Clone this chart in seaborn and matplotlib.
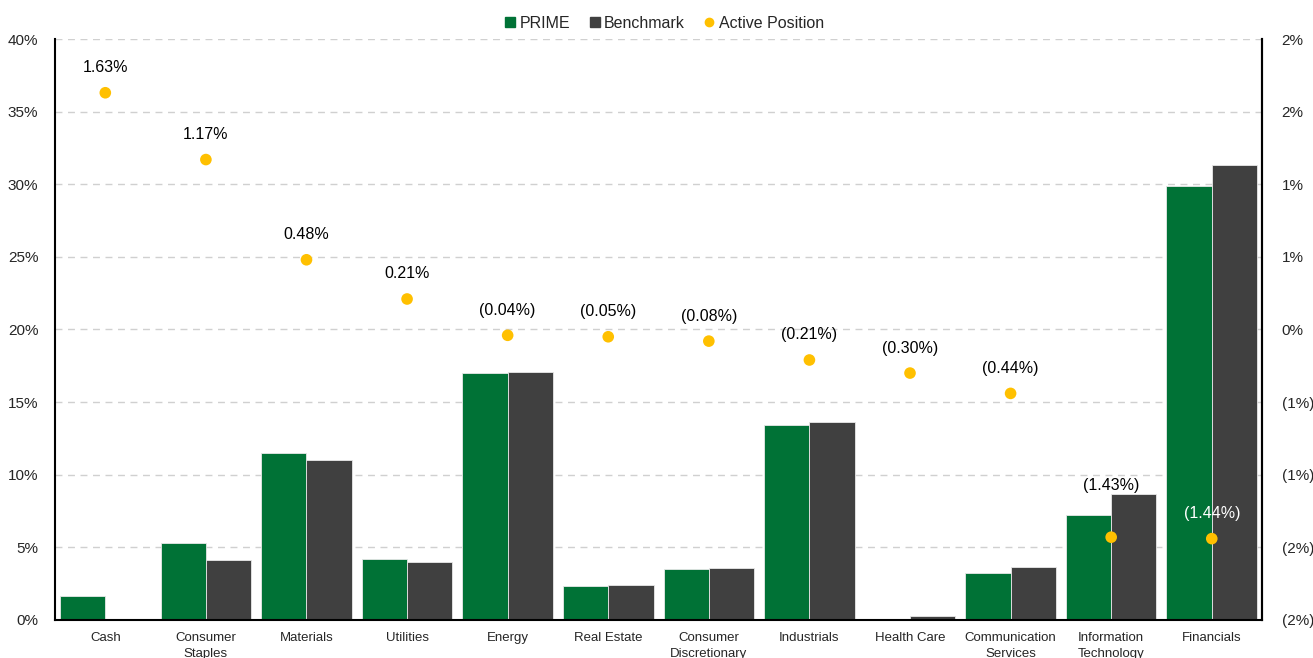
import numpy as np
import pandas as pd
import matplotlib
matplotlib.use('Agg')
import matplotlib.pyplot as plt
from matplotlib.ticker import FuncFormatter
from matplotlib.lines import Line2D
import seaborn as sns

# data
sectors = ['Cash', 'Consumer\nStaples', 'Materials', 'Utilities', 'Energy', 'Real Estate',
           'Consumer\nDiscretionary', 'Industrials', 'Health Care', 'Communication\nServices',
           'Information\nTechnology', 'Financials']
prime = [1.63, 5.30, 11.50, 4.20, 17.03, 2.34, 3.51, 13.43, 0.00, 3.24, 7.23, 29.88]
benchmark = [0.00, 4.13, 11.02, 3.99, 17.07, 2.39, 3.59, 13.64, 0.30, 3.68, 8.66, 31.32]
active = [1.63, 1.17, 0.48, 0.21, -0.04, -0.05, -0.08, -0.21, -0.30, -0.44, -1.43, -1.44]

GREEN = '#007236'
GREY = '#404040'
GOLD = '#FFC000'

sns.set_style('white')
plt.rcParams['font.family'] = ['Liberation Sans', 'DejaVu Sans']

df = pd.DataFrame({
    'Sector': sectors * 2,
    'Weight': prime + benchmark,
    'Series': ['PRIME'] * len(sectors) + ['Benchmark'] * len(sectors),
})

fig = plt.figure(figsize=(13.13, 6.58), dpi=100)
ax = fig.add_axes([0.0419, 0.0578, 0.9193, 0.8829])

sns.barplot(data=df, x='Sector', y='Weight', hue='Series', order=sectors,
            hue_order=['PRIME', 'Benchmark'], palette=[GREEN, GREY],
            width=0.9, gap=0, saturation=1, edgecolor='#e8e8e8', linewidth=0.6,
            legend=False, ax=ax)

ax.set_ylim(0, 40)
ax.set_yticks(np.arange(0, 41, 5))
ax.yaxis.set_major_formatter(FuncFormatter(lambda v, p: f'{v:.0f}%'))
ax.yaxis.grid(True, color='#d0d0d0', linestyle=(0, (5, 4)), linewidth=1)
ax.set_axisbelow(True)
ax.set_xlabel('')
ax.set_ylabel('')
ax.tick_params(axis='both', length=0)
ax.tick_params(axis='y', labelsize=11, pad=12)
ax.tick_params(axis='x', labelsize=9.5, pad=9)
for lbl in ax.get_xticklabels():
    lbl.set_linespacing(1.4)
for s in ['left', 'bottom', 'right']:
    ax.spines[s].set_visible(True)
    ax.spines[s].set_color('black')
    ax.spines[s].set_linewidth(1.5)
ax.spines['top'].set_visible(False)
ax.set_xlim(-0.5, len(sectors) - 0.5)

ax2 = ax.twinx()
xpos = np.arange(len(sectors))
sns.scatterplot(x=xpos, y=active, color=GOLD, s=70, edgecolor='none', ax=ax2, zorder=5)
ax2.set_ylim(-2, 2)
ax2.set_yticks(np.arange(-2, 2.01, 0.5))


def right_fmt(v, p):
    r = int(abs(v) + 0.5)
    return f'({r}%)' if v < -1e-9 else f'{r}%'


ax2.yaxis.set_major_formatter(FuncFormatter(right_fmt))
ax2.tick_params(axis='y', length=0, labelsize=11, pad=14)
for s in ['left', 'bottom', 'top']:
    ax2.spines[s].set_visible(False)
ax2.spines['right'].set_color('black')
ax2.spines['right'].set_linewidth(1.5)
ax2.set_xlim(-0.5, len(sectors) - 0.5)

for i, v in enumerate(active):
    txt = f'{v:.2f}%' if v >= 0 else f'({abs(v):.2f}%)'
    col = 'white' if sectors[i] == 'Financials' else 'black'
    # IT label sits above its benchmark bar
    off = 37 if sectors[i].startswith('Information') else 18
    ax2.annotate(txt, (i, v), xytext=(0, off), textcoords='offset points',
                 ha='center', va='center', fontsize=11.5, color=col)

handles = [
    Line2D([], [], marker='s', linestyle='none', color=GREEN, markersize=7),
    Line2D([], [], marker='s', linestyle='none', color=GREY, markersize=7),
    Line2D([], [], marker='o', linestyle='none', color=GOLD, markersize=6),
]
fig.legend(handles, ['PRIME', 'Benchmark', 'Active Position'], loc='center',
           bbox_to_anchor=(0.505, 0.965), ncol=3, frameon=False, fontsize=11.5,
           handletextpad=0.1, columnspacing=1.0, handlelength=1)

fig.savefig('out.png', dpi=100)
